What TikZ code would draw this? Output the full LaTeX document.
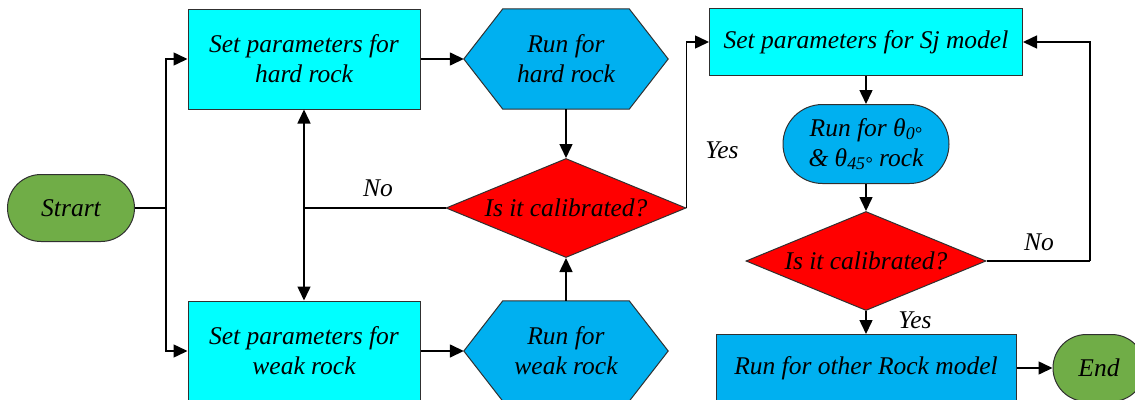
\documentclass[tikz,border=0pt]{standalone}
\usepackage{fontspec}
\setmainfont{Liberation Serif}
\usetikzlibrary{shapes.geometric,arrows.meta,backgrounds}
\definecolor{boxcyan}{HTML}{00FFFF}
\definecolor{boxblue}{HTML}{00B0F0}
\definecolor{boxred}{HTML}{FF0000}
\definecolor{boxgreen}{HTML}{70AD47}
\definecolor{edgegray}{HTML}{303030}
\begin{document}
\begin{tikzpicture}[x=1pt,y=-1pt,
  txt/.style={font=\fontsize{25.5}{30}\selectfont\itshape, align=center, text=black},
  shapebase/.style={txt, draw=edgegray, line width=1pt, inner sep=0pt},
  cyanbox/.style={shapebase, rectangle, fill=boxcyan},
  bluebox/.style={shapebase, rectangle, fill=boxblue},
  stadium/.style={shapebase, rectangle, rounded corners=#1},
  decision/.style={shapebase, diamond, fill=boxred, aspect=2.42, minimum width=240pt, minimum height=99pt},
  hexholder/.style={txt, rectangle, inner sep=0pt, minimum width=204pt, minimum height=100pt},
  hexfill/.style={draw=edgegray, line width=1pt, fill=boxblue},
  arr/.style={-{Triangle[length=14pt,width=13pt]}, line width=1.5pt},
  plain/.style={line width=1.5pt}
]
\useasboundingbox (0,0) rectangle (1135,399);

% nodes
\node[stadium=33.5pt, fill=boxgreen, minimum width=127pt, minimum height=67pt] (start) at (71,208) {Strart};
\node[cyanbox, minimum width=232pt, minimum height=100pt] (hard) at (304,59) {Set parameters for\\hard rock};
\node[cyanbox, minimum width=232pt, minimum height=100pt] (weak) at (304,351) {Set parameters for\\weak rock};
\node[hexholder] (hexh) at (566,59) {Run for\\hard rock};
\node[hexholder] (hexw) at (566,351) {Run for\\weak rock};
\begin{scope}[on background layer]
  \filldraw[hexfill] (hexh.west) -- ([xshift=39pt]hexh.north west) -- ([xshift=-39pt]hexh.north east) -- (hexh.east) -- ([xshift=-39pt]hexh.south east) -- ([xshift=39pt]hexh.south west) -- cycle;
  \filldraw[hexfill] (hexw.west) -- ([xshift=39pt]hexw.north west) -- ([xshift=-39pt]hexw.north east) -- (hexw.east) -- ([xshift=-39pt]hexw.south east) -- ([xshift=39pt]hexw.south west) -- cycle;
\end{scope}
\node[decision] (d1) at (566,208) {Is it calibrated?};
\node[cyanbox, minimum width=313pt, minimum height=67pt] (sj) at (866,42) {Set parameters for Sj model};
\node[stadium=39.5pt, fill=boxblue, minimum width=166pt, minimum height=79pt] (runt) at (866,144) {Run for θ\textsubscript{0°}\\\& θ\textsubscript{45°} rock};
\node[decision] (d2) at (866,261) {Is it calibrated?};
\node[bluebox, minimum width=300pt, minimum height=67pt] (other) at (866,368) {Run for other Rock model};
\node[stadium=33.5pt, fill=boxgreen, minimum width=92pt, minimum height=67pt] (endn) at (1099,368) {End};

% labels
\node[txt] (lno1) at (378,188) {No};
\node[txt] (lyes1) at (722,150) {Yes};
\node[txt] (lno2) at (1039,242) {No};
\node[txt] (lyes2) at (915,320) {Yes};

% connectors
\coordinate (j) at (166,208);
\coordinate (n1) at (304,208);
\coordinate (c2) at (1090,261);
\draw[plain] (start.east) -- (j);
\draw[arr] (j) |- (hard.west);
\draw[arr] (j) |- (weak.west);
\draw[arr] (hard.east) -- (hexh.west);
\draw[arr] (weak.east) -- (hexw.west);
\draw[arr] (hexh.south) -- (d1.north);
\draw[arr] (hexw.north) -- (d1.south);
\draw[plain] (d1.west) -- (n1);
\draw[arr] (n1) -- (hard.south);
\draw[arr] (n1) -- (weak.north);
\draw[arr] (d1.east) |- (sj.west);
\draw[arr] (sj.south) -- (runt.north);
\draw[arr] (runt.south) -- (d2.north);
\draw[arr] (d2.south) -- (other.north);
\draw[plain] (d2.east) -- (c2);
\draw[arr] (c2) |- (sj.east);
\draw[arr] (other.east) -- (endn.west);
\end{tikzpicture}
\end{document}
